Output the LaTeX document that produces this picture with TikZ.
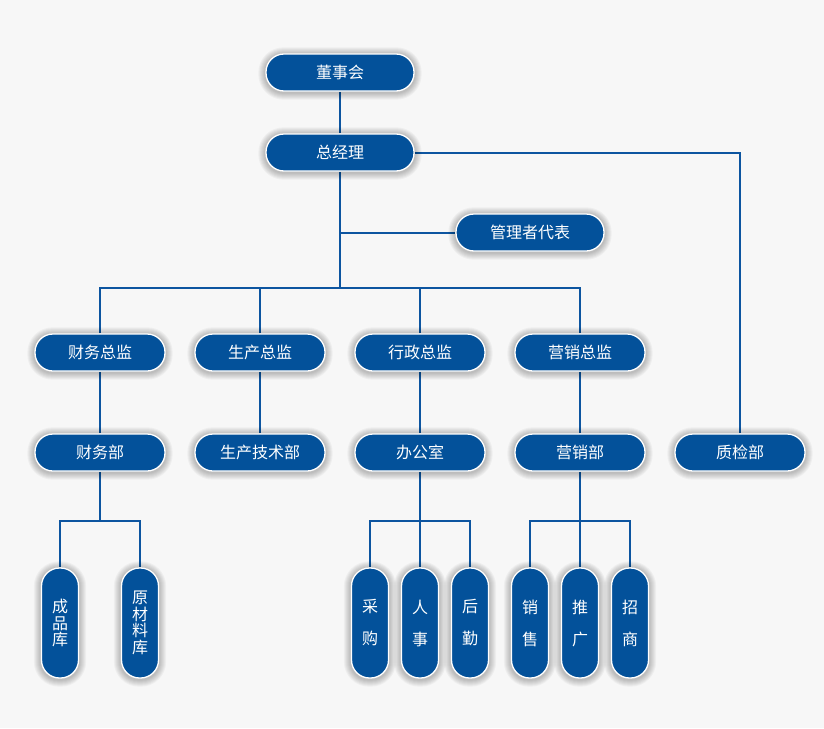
\documentclass[tikz,border=0pt]{standalone}
\usepackage{fontspec}
\newfontfamily\cjk{Noto Sans CJK SC}
\usetikzlibrary{calc}
\definecolor{nodeblue}{HTML}{03519A}
\definecolor{lineblue}{HTML}{0D55A0}
\definecolor{bggray}{HTML}{F7F7F7}
\pgfdeclarelayer{bg}
\pgfdeclarelayer{shadow}
\pgfdeclarelayer{edges}
\pgfsetlayers{bg,edges,shadow,main}
\tikzset{
  pill/.style={rectangle, fill=nodeblue, draw=white, line width=1.3pt,
    rounded corners=18pt, minimum width=148pt, minimum height=37pt, inner sep=0pt,
    text=white, font=\cjk\fontsize{16}{17}\selectfont},
  pillm/.style={pill, minimum width=130pt},
  vpill/.style={pill, minimum width=37pt, minimum height=110pt, align=center},
  vtight/.style={vpill, font=\cjk\fontsize{16}{16.5}\selectfont},
  vloose/.style={vpill, font=\cjk\fontsize{16}{32}\selectfont},
  conn/.style={draw=lineblue, line width=2pt},
  shadowring/.style={fill=black, opacity=0.035}
}
\begin{document}
\begin{tikzpicture}[x=1pt,y=-1pt]
\begin{pgfonlayer}{bg}
\fill[bggray] (0,0) rectangle (824,728);
\end{pgfonlayer}
\useasboundingbox (0,0) rectangle (824,728);
% nodes
\node[pill] (dsh) at (340,72.5) {董事会};
\node[pill] (zjl) at (340,152.5) {总经理};
\node[pill] (glz) at (530,232.5) {管理者代表};
\node[pillm] (cwz) at (100,352.5) {财务总监};
\node[pillm] (scz) at (260,352.5) {生产总监};
\node[pillm] (xzz) at (420,352.5) {行政总监};
\node[pillm] (yxz) at (580,352.5) {营销总监};
\node[pillm] (cwb) at (100,452.5) {财务部};
\node[pillm] (scb) at (260,452.5) {生产技术部};
\node[pillm] (bgs) at (420,452.5) {办公室};
\node[pillm] (yxb) at (580,452.5) {营销部};
\node[pillm] (zjb) at (740,452.5) {质检部};
\node[vtight] (cpk) at (60,623) {成\\品\\库};
\node[vtight] (ycl) at (140,623) {原\\材\\料\\库};
\node[vloose] (cg) at (370,623) {采\\购};
\node[vloose] (rs) at (420,623) {人\\事};
\node[vloose] (hq) at (470,623) {后\\勤};
\node[vloose] (xs) at (530,623) {销\\售};
\node[vloose] (tg) at (580,623) {推\\广};
\node[vloose] (zs) at (630,623) {招\\商};
% soft shadows
\begin{pgfonlayer}{shadow}
\foreach \n in {dsh,zjl,glz,cwz,scz,xzz,yxz,cwb,scb,bgs,yxb,zjb,cpk,ycl,cg,rs,hq,xs,tg,zs}{
  \foreach \k in {1,...,7}{
    \pgfmathsetmacro{\rr}{18+\k}
    \fill[shadowring, rounded corners=\rr pt]
      ($(\n.south west)+(-\k,\k+1)$) rectangle ($(\n.north east)+(\k,-\k+1)$);
  }
}
\end{pgfonlayer}
\coordinate (bus) at (340,288);
\coordinate (j1) at (100,520.5);
\coordinate (j2) at (420,520.5);
\coordinate (j3) at (580,520.5);
% connectors
\begin{pgfonlayer}{edges}
\draw[conn] (dsh.south) -- (zjl.north);
\draw[conn] (zjl.east) -| (zjb.north);
\draw[conn] (zjl.south) -- (bus);
\draw[conn] (zjl |- glz) -- (glz.west);
\draw[conn] (cwz.north) |- (bus) -| (yxz.north);
\draw[conn] (scz.north) -- (scz |- bus);
\draw[conn] (xzz.north) -- (xzz |- bus);
\draw[conn] (cwz.south) -- (cwb.north);
\draw[conn] (scz.south) -- (scb.north);
\draw[conn] (xzz.south) -- (bgs.north);
\draw[conn] (yxz.south) -- (yxb.north);
\draw[conn] (cwb.south) -- (j1);
\draw[conn] (cpk.north) |- (j1) -| (ycl.north);
\draw[conn] (bgs.south) -- (rs.north);
\draw[conn] (cg.north) |- (j2) -| (hq.north);
\draw[conn] (yxb.south) -- (tg.north);
\draw[conn] (xs.north) |- (j3) -| (zs.north);
\end{pgfonlayer}
\end{tikzpicture}
\end{document}
